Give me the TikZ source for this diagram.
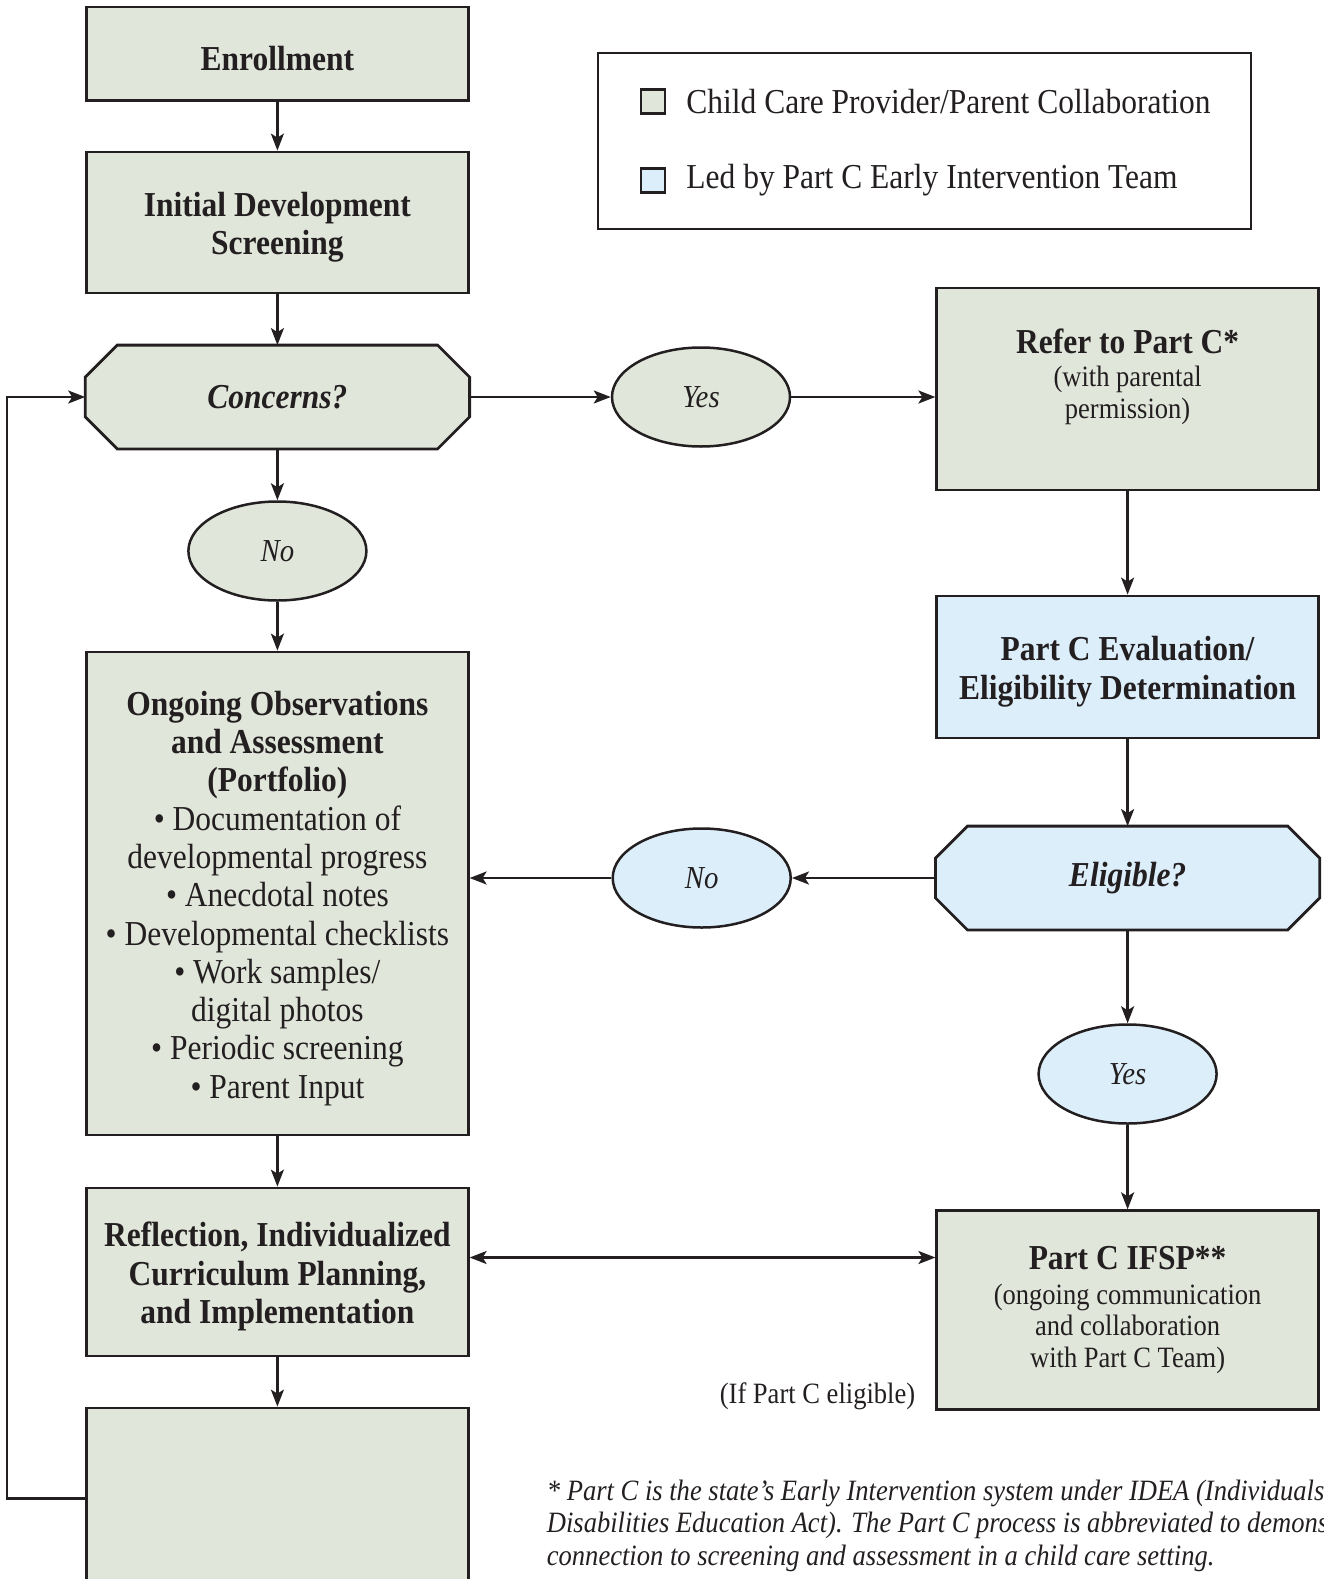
\documentclass[tikz,border=0pt]{standalone}
\usepackage{fontspec}
\setmainfont[FakeStretch=0.9]{Liberation Serif}
\usetikzlibrary{shapes.geometric,arrows.meta,backgrounds,positioning}
\definecolor{careGreen}{HTML}{E1E6DB}
\definecolor{partBlue}{HTML}{DDEEFB}
\definecolor{ink}{HTML}{231F20}
\newcommand{\tallstrut}{\rule{0pt}{34pt}}

\begin{document}
\begin{tikzpicture}[x=1pt, y=-1pt, >={Stealth[length=17pt,width=13pt,inset=4pt]},
    every node/.style={text=ink},
    box/.style={rectangle, draw=ink, line width=2.8pt, minimum width=381.6pt,
      inner sep=0pt, align=center, font=\fontsize{35}{38.3}\selectfont},
    greenbox/.style={box, fill=careGreen},
    bluebox/.style={box, fill=partBlue},
    choice/.style={box, draw=none, minimum height=101pt,
      font=\fontsize{35}{38.3}\selectfont\bfseries\itshape},
    answer/.style={ellipse, draw=ink, line width=2.5pt, minimum width=178pt,
      minimum height=99pt, inner sep=0pt, font=\fontsize{32}{34}\selectfont\itshape},
    small/.style={font=\fontsize{29.5}{31.5}\selectfont},
    keybox/.style={draw=ink, line width=2.5pt, minimum size=24pt, inner sep=0pt},
    flow/.style={draw=ink, line width=2.3pt, ->}]
  \useasboundingbox (0,0) rectangle (1323,1579);

  % left column
  \node[greenbox, minimum height=93.7pt] (enroll) at (277.4,53.9) {\tallstrut\textbf{Enrollment}};
  \node[greenbox, minimum height=141pt] (screen) at (277.4,222.5)
    {\tallstrut\textbf{Initial Development}\\ \textbf{Screening}};
  \node[choice] (concerns) at (277.4,397) {Concerns?};
  \node[answer, fill=careGreen] (noL) at (277.4,551) {No};
  \node[greenbox, minimum height=483pt] (observe) at (277.4,893.5)
    {\tallstrut\textbf{Ongoing Observations}\\ \textbf{and Assessment}\\ \textbf{(Portfolio)}\\
     • Documentation of\\ developmental progress\\ • Anecdotal notes\\
     • Developmental checklists\\ • Work samples/\\ digital photos\\
     • Periodic screening\\ • Parent Input};
  \node[greenbox, minimum height=168pt] (reflect) at (277.4,1272)
    {\tallstrut\textbf{Reflection, Individualized}\\ \textbf{Curriculum Planning,}\\
     \textbf{and Implementation}};
  \node[greenbox, minimum height=300pt] (final) at (277.4,1558) {};

  % legend
  \node[draw=ink, line width=2.6pt, minimum width=653pt, minimum height=176pt] (legend) at (924.5,141) {};
  \node[keybox, fill=careGreen] (keyGreen) at (653,101.5) {};
  \node[keybox, fill=partBlue] (keyBlue) at (653,180.5) {};
  \node[right=20pt of keyGreen, inner sep=0pt, font=\fontsize{35}{38}\selectfont]
    (keyGreenText) {Child Care Provider/Parent Collaboration};
  \node[right=20pt of keyBlue, inner sep=0pt, font=\fontsize{35}{38}\selectfont]
    (keyBlueText) {Led by Part C Early Intervention Team};

  % middle and right column
  \node[answer, fill=careGreen] (yesT) at (701,397) {Yes};
  \node[greenbox, small, minimum height=202pt] (refer) at (1127.6,389)
    {{\fontsize{35}{38}\selectfont\bfseries Refer to Part C*}\\[2pt]
     (with parental\\ permission)\\ \mbox{}};
  \node[bluebox, minimum height=142pt] (evalC) at (1127.6,667)
    {\tallstrut\textbf{Part C Evaluation/}\\ \textbf{Eligibility Determination}};
  \node[choice] (eligible) at (1127.6,878) {Eligible?};
  \node[answer, fill=partBlue] (noM) at (701.7,878) {No};
  \node[answer, fill=partBlue] (yesR) at (1127.6,1074) {Yes};
  \node[greenbox, small, minimum height=198.5pt] (ifsp) at (1127.6,1310)
    {{\fontsize{35}{38}\selectfont\bfseries Part C IFSP**}\\[3pt]
     (ongoing communication\\ and collaboration\\ with Part C Team)};
  \node[small, inner sep=0pt] (ifElig) at (817.5,1396.5) {(If Part C eligible)};

  % footnote
  \node[anchor=north west, inner sep=0pt, align=left,
    font=\fontsize{29.5}{32.3}\selectfont\itshape] (note) at (546.7,1480)
    {* Part C is the state’s Early Intervention system under IDEA (Individuals\\
     Disabilities Education Act). The Part C process is abbreviated to demonstrate\\
     connection to screening and assessment in a child care setting.};

  % octagons behind the decisions
  \begin{scope}[on background layer]
    \foreach \n/\c in {concerns/careGreen, eligible/partBlue}
      \filldraw[draw=ink, fill=\c, line width=2.8pt]
        ([xshift=32pt]\n.north west) -- ([xshift=-32pt]\n.north east)
        -- ([yshift=-32pt]\n.north east) -- ([yshift=32pt]\n.south east)
        -- ([xshift=-32pt]\n.south east) -- ([xshift=32pt]\n.south west)
        -- ([yshift=32pt]\n.south west) -- ([yshift=-32pt]\n.north west) -- cycle;
  \end{scope}

  % connectors
  \draw[flow] (enroll) -- (screen);
  \draw[flow] (screen) -- (concerns);
  \draw[flow] (concerns) -- (noL);
  \draw[flow] (noL) -- (observe);
  \draw[flow] (observe) -- (reflect);
  \draw[flow] (reflect) -- (final);
  \draw[flow] (concerns.east) -- (yesT.west);
  \draw[flow] (yesT.east) -- (yesT.east -| refer.west);
  \draw[flow] (refer) -- (evalC);
  \draw[flow] (evalC) -- (eligible);
  \draw[flow] (eligible.west) -- (noM.east);
  \draw[flow] (noM.west) -- (noM.west -| observe.east);
  \draw[flow] (eligible) -- (yesR);
  \draw[flow] (yesR) -- (ifsp);
  \coordinate (both) at ([yshift=14.5pt]reflect.east);
  \draw[flow, <->] (both) -- (both -| ifsp.west);
  \coordinate (back) at ([yshift=-92pt]final.north west);
  \draw[flow] (back) -- ++(-78,0) |- (concerns.west);
\end{tikzpicture}
\end{document}
